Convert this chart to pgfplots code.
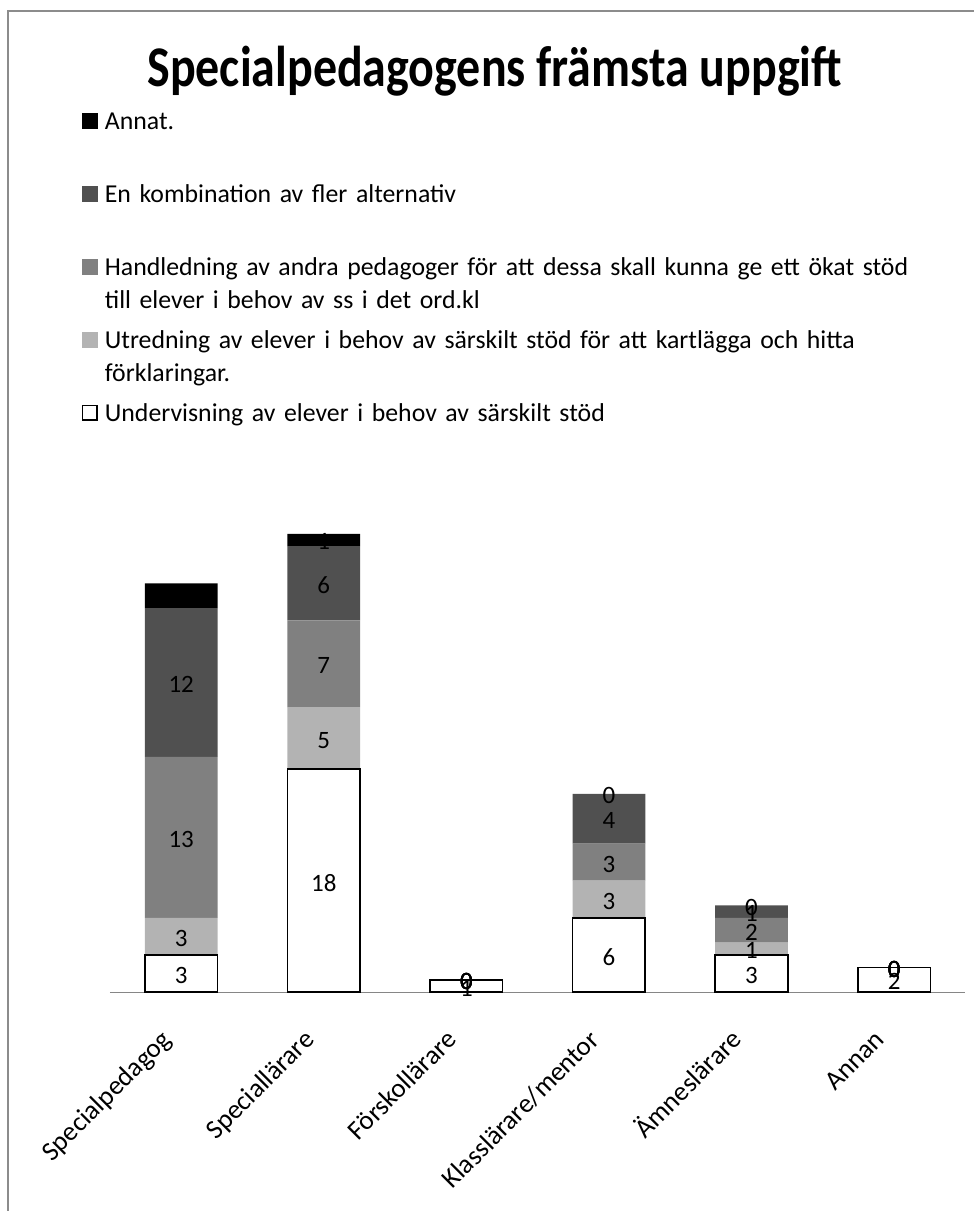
\documentclass[border=0pt]{standalone}
\usepackage{graphicx}
\usepackage{pgfplots}
\usepackage{pgfplotstable}
\pgfplotsset{compat=1.18}
\usepackage{fontspec}
\setmainfont{Carlito}

\definecolor{annat}{HTML}{000000}
\definecolor{kombi}{HTML}{505050}
\definecolor{handl}{HTML}{808080}
\definecolor{utred}{HTML}{B3B3B3}
\definecolor{ram}{HTML}{8C8C8C}
\definecolor{axel}{HTML}{868686}

% antal svar per yrkesgrupp (0 = Specialpedagog ... 5 = Annan)
\pgfplotstableread{
x under utred handl kombi annat
0 3  3 13 12 2
1 18 5 7  6  1
2 1  0 0  0  0
3 6  3 3  4  0
4 3  1 2  1  0
5 2  0 0  0  0
}\svar

% gemensam geometri for stapelaxeln och etikettaxeln
\pgfplotsset{
  geometri/.style={
    x=71.35pt, y=6.2pt,
    xmin=-0.5, xmax=5.5, ymin=0, ymax=40,
    clip=false,
  },
  etikett/.style={
    draw=none, mark=none, forget plot,
    nodes near coords={\pgfplotspointmeta},
    point meta=explicit symbolic,
    every node near coord/.style={font=\fontsize{12.5}{15}\selectfont, text=black,
      anchor=center, inner sep=0pt, yshift=-1pt},
  },
}

\begin{document}
\begin{tikzpicture}
\useasboundingbox (-55pt,-109.5pt) rectangle (432pt,496.5pt);
\draw[ram, line width=0.7pt] (-51pt,-130pt) rectangle (450pt,491pt);
\begin{axis}[
  geometri,
  ybar stacked,
  bar width=36.35pt,
  hide y axis,
  axis x line*=bottom,
  x axis line style={axel, line width=0.6pt, -},
  xtick={0,...,5},
  xticklabels={Specialpedagog, Speciallärare, Förskollärare, Klasslärare/mentor, Ämneslärare, Annan},
  major tick length=0pt,
  xticklabel style={font=\fontsize{13.5}{16}\selectfont, inner sep=0pt, anchor=base east, xshift=-4pt, yshift=-24.5pt, rotate=45},
  title={\scalebox{1}[1.2]{Specialpedagogens främsta uppgift}},
  title style={at={(axis description cs:0.4498,1.8024)}, anchor=base, font=\fontsize{24}{28}\selectfont\bfseries, inner sep=0pt},
  reverse legend,
  legend image code/.code={\fill[#1, draw=none] (0pt,0.25pt) rectangle (8pt,8.25pt);},
  legend style={at={(axis description cs:-0.03306,1.7762)}, anchor=north west,
    draw=none, fill=none, inner sep=0pt, outer sep=0pt, row sep=0pt, column sep=3.65pt,
    cells={anchor=base west},
    nodes={inner sep=0pt, text width=430pt, align=left, text height=9pt, text depth=27.45pt,
      font=\fontsize{12.9}{16.5}\selectfont}},
]
\addplot[fill=white, draw=black, line width=0.8pt,
  legend image code/.code={\draw[black, fill=white, line width=0.65pt] (0.35pt,0.6pt) rectangle (7.65pt,7.9pt);}]
  table[x=x, y=under] {\svar};
\addlegendentry{Undervisning av elever i behov av särskilt stöd}
\addplot[fill=utred, draw=none] table[x=x, y=utred] {\svar};
\addlegendentry{Utredning av elever i behov av särskilt stöd för att kartlägga och hitta\\förklaringar.}
\addplot[fill=handl, draw=none] table[x=x, y=handl] {\svar};
\addlegendentry{Handledning av andra pedagoger för att dessa skall kunna ge ett ökat stöd\\till elever i behov av ss i det ord.kl}
\addplot[fill=kombi, draw=none] table[x=x, y=kombi] {\svar};
\addlegendentry{En kombination av fler alternativ}
\addplot[fill=annat, draw=none] table[x=x, y=annat] {\svar};
\addlegendentry{Annat.}
\end{axis}
% dataetiketter mitt i varje segment
\begin{axis}[geometri, hide axis]
\addplot[etikett] table[x=x, y expr=\thisrow{under}/2, meta=under] {\svar};
\addplot[etikett] table[x=x, y expr=\thisrow{under}+\thisrow{utred}/2, meta=utred] {\svar};
\addplot[etikett] table[x=x, y expr=\thisrow{under}+\thisrow{utred}+\thisrow{handl}/2, meta=handl] {\svar};
\addplot[etikett] table[x=x, y expr=\thisrow{under}+\thisrow{utred}+\thisrow{handl}+\thisrow{kombi}/2, meta=kombi] {\svar};
\addplot[etikett] table[x=x, y expr=\thisrow{under}+\thisrow{utred}+\thisrow{handl}+\thisrow{kombi}+\thisrow{annat}/2, meta=annat] {\svar};
\end{axis}
\end{tikzpicture}
\end{document}
